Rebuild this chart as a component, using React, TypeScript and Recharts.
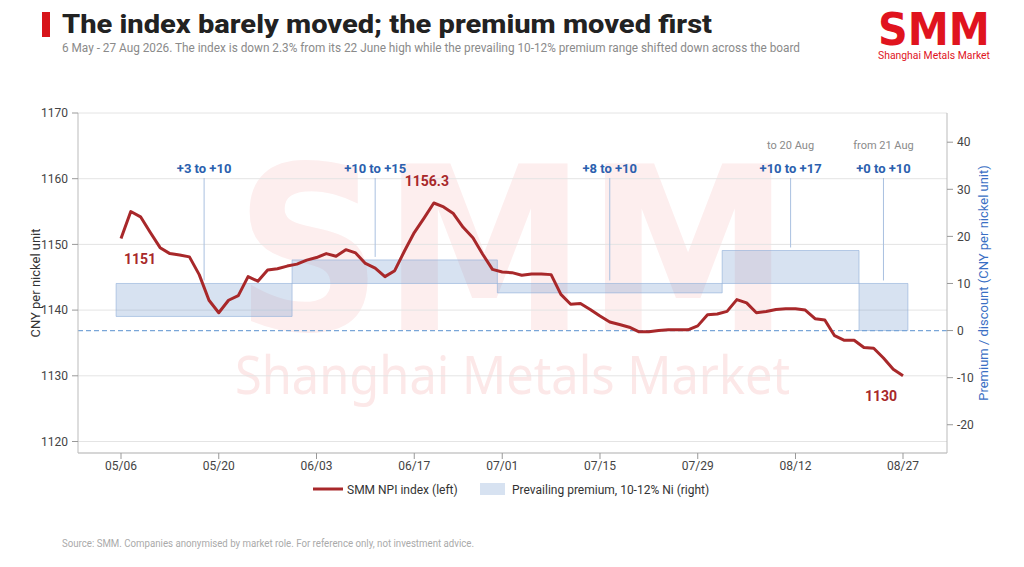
import React from 'react';
import {
  ComposedChart,
  Line,
  XAxis,
  YAxis,
  CartesianGrid,
  ReferenceArea,
  ReferenceLine,
  LabelList,
} from 'recharts';

// ---------- data ----------
const dates = [
  '05/06','05/07','05/08','05/11','05/12','05/13','05/14','05/15','05/18','05/19',
  '05/20','05/21','05/22','05/25','05/26','05/27','05/28','05/29','06/01','06/02',
  '06/03','06/04','06/05','06/08','06/09','06/10','06/11','06/12','06/15','06/16',
  '06/17','06/18','06/22','06/23','06/24','06/25','06/26','06/29','06/30','07/01',
  '07/02','07/03','07/06','07/07','07/08','07/09','07/10','07/13','07/14','07/15',
  '07/16','07/17','07/20','07/21','07/22','07/23','07/24','07/27','07/28','07/29',
  '07/30','07/31','08/03','08/04','08/05','08/06','08/07','08/10','08/11','08/12',
  '08/13','08/14','08/17','08/18','08/19','08/20','08/21','08/24','08/25','08/26',
  '08/27',
];

const npiIndex = [
  1150.9, 1155.0, 1154.2, 1151.8, 1149.5, 1148.6, 1148.4, 1148.1, 1145.4, 1141.5,
  1139.6, 1141.5, 1142.2, 1145.1, 1144.4, 1146.1, 1146.3, 1146.7, 1147.0, 1147.6,
  1148.0, 1148.6, 1148.2, 1149.2, 1148.7, 1147.1, 1146.4, 1145.1, 1146.0, 1149.0,
  1151.8, 1154.0, 1156.3, 1155.7, 1154.7, 1152.6, 1151.0, 1148.5, 1146.2, 1145.8,
  1145.7, 1145.3, 1145.5, 1145.5, 1145.4, 1142.4, 1140.9, 1141.0, 1140.1, 1139.1,
  1138.2, 1137.8, 1137.4, 1136.7, 1136.7, 1136.9, 1137.0, 1137.0, 1137.0, 1137.6,
  1139.3, 1139.4, 1139.8, 1141.6, 1141.1, 1139.6, 1139.8, 1140.1, 1140.2, 1140.2,
  1140.0, 1138.7, 1138.5, 1136.1, 1135.4, 1135.4, 1134.3, 1134.2, 1132.7, 1131.0,
  1130.0,
];

const tickDates = ['05/06', '05/20', '06/03', '06/17', '07/01', '07/15', '07/29', '08/12', '08/27'];
const leftTicks = [1120, 1130, 1140, 1150, 1160, 1170];
const rightTicks = [-20, -10, 0, 10, 20, 30, 40];

const premiumStart = ['05/06', '06/01', '07/01', '08/03', '08/21'];
const premiumEnd = ['05/29', '06/30', '07/31', '08/20', '08/27'];
const premiumLow = [3, 10, 8, 10, 0];
const premiumHigh = [10, 15, 10, 17, 10];
const premiumLabels = ['+3 to +10', '+10 to +15', '+8 to +10', '+10 to +17', '+0 to +10'];
const premiumNotes = ['', '', '', 'to 20 Aug', 'from 21 Aug'];
const premiumCalloutAnchor = ['', '06/11', '', '', ''];

const pointLabelDates = ['05/06', '06/22', '08/27'];
const pointLabelTexts = ['1151', '1156.3', '1130'];

const seriesNames = ['SMM NPI index (left)', 'Prevailing premium, 10-12% Ni (right)'];

// ---------- styles ----------
const RED = '#a8282a';
const BLUE_TEXT = '#2b5fae';
const BOX_FILL = '#6a94cc';
const BOX_OPACITY = 0.27;
const FONT = 'Roboto, "Noto Sans", sans-serif';
const CALLOUT_TOP = 32.4;
const pointLabelOffsets = [
  { dx: 19, dy: 26 },
  { dx: -7, dy: -17 },
  { dx: -22, dy: 25 },
];

const data = dates.map((d, i) => ({ idx: i, date: d, npi: npiIndex[i] }));
const xTicks = tickDates.map((d) => dates.indexOf(d));

const segments = premiumStart.map((s, i) => {
  const si = dates.indexOf(s);
  const ei = dates.indexOf(premiumEnd[i]);
  const anchor = premiumCalloutAnchor[i] ? dates.indexOf(premiumCalloutAnchor[i]) : (si + ei) / 2;
  return {
    x1: si - 0.5,
    x2: ei + 0.5,
    low: premiumLow[i],
    high: premiumHigh[i],
    label: premiumLabels[i],
    note: premiumNotes[i],
    cx: anchor,
  };
});

const PointLabel = (props: any) => {
  const { x, y, index } = props;
  const d = dates[index];
  const k = pointLabelDates.indexOf(d);
  if (k < 0) return null;
  const off = pointLabelOffsets[k];
  return (
    <text
      x={x + off.dx}
      y={y + off.dy}
      textAnchor="middle"
      fontFamily={FONT}
      fontSize={14}
      fontWeight={700}
      fill={RED}
    >
      {pointLabelTexts[k]}
    </text>
  );
};

const makeCallout = (label: string, note: string) => (p: any) => (
  <g>
    <line x1={p.x1} y1={p.y1} x2={p.x2} y2={p.y2 - 3} stroke="#a9c0e0" strokeWidth={1} />
    <text
      x={p.x1}
      y={p.y1 - 5}
      textAnchor="middle"
      fontFamily={FONT}
      fontSize={13}
      fontWeight={700}
      fill={BLUE_TEXT}
    >
      {label}
    </text>
    {note ? (
      <text x={p.x1} y={p.y1 - 29} textAnchor="middle" fontFamily={FONT} fontSize={11} fill="#8a8a8a">
        {note}
      </text>
    ) : null}
  </g>
);

export default function App() {
  return (
    <div style={{ position: 'absolute', left: 0, top: 0, width: 1024, height: 567, background: '#fff', overflow: 'hidden' }}>
      {/* watermark */}
      <svg width={1024} height={567} style={{ position: 'absolute', left: 0, top: 0 }}>
        <text
          x={235}
          y={330}
          fontFamily='"DejaVu Sans", sans-serif'
          fontWeight={900}
          fontSize={228}
          fill="#fdeeee"
          textLength={555}
          lengthAdjust="spacingAndGlyphs"
        >
          SMM
        </text>
        <text
          x={235}
          y={394}
          fontFamily='"Noto Sans", sans-serif'
          fontSize={52}
          fill="#fce8e8"
          textLength={555}
          lengthAdjust="spacingAndGlyphs"
        >
          Shanghai Metals Market
        </text>
      </svg>

      <div style={{ position: 'absolute', left: 0, top: 0 }}>
        <ComposedChart width={1024} height={567} data={data} margin={{ top: 113, right: 27, bottom: 84, left: 28 }}>
          <CartesianGrid yAxisId="left" vertical={false} stroke="#e4e4e4" />
          <XAxis
            dataKey="idx"
            type="number"
            domain={[-4.4, 84.5]}
            allowDataOverflow
            ticks={xTicks}
            tickFormatter={(v: number) => dates[v]}
            tick={{ fontSize: 12, fill: '#444', fontFamily: FONT }}
            tickLine={{ stroke: '#999' }}
            axisLine={{ stroke: '#bbb' }}
            tickSize={6}
            height={30}
            interval={0}
          />
          <YAxis
            yAxisId="left"
            domain={[1118.25, 1170]}
            ticks={leftTicks}
            allowDataOverflow
            width={50}
            tick={{ fontSize: 12, fill: '#444', fontFamily: FONT }}
            tickLine={{ stroke: '#999' }}
            axisLine={{ stroke: '#bbb' }}
            tickSize={6}
            tickMargin={4}
          />
          <YAxis
            yAxisId="right"
            orientation="right"
            domain={[-26, 46.2]}
            ticks={rightTicks}
            allowDataOverflow
            width={50}
            tick={{ fontSize: 12, fill: '#444', fontFamily: FONT }}
            tickLine={{ stroke: '#999' }}
            axisLine={{ stroke: '#bbb' }}
            tickSize={6}
            tickMargin={4}
          />
          {segments.map((s, i) => (
            <ReferenceArea
              key={'box' + i}
              yAxisId="right"
              x1={s.x1}
              x2={s.x2}
              y1={s.low}
              y2={s.high}
              fill={BOX_FILL}
              fillOpacity={BOX_OPACITY}
              stroke="#8eaed8"
              strokeOpacity={0.6}
              strokeWidth={1}
              ifOverflow="visible"
            />
          ))}
          <ReferenceLine yAxisId="right" y={0} stroke="#7aa6d8" strokeDasharray="5 3" strokeWidth={1.3} />
          {segments.map((s, i) => (
            <ReferenceLine
              key={'callout' + i}
              yAxisId="right"
              segment={[
                { x: s.cx, y: CALLOUT_TOP },
                { x: s.cx, y: s.high },
              ]}
              ifOverflow="visible"
              shape={makeCallout(s.label, s.note)}
            />
          ))}
          <Line
            yAxisId="left"
            type="linear"
            dataKey="npi"
            stroke={RED}
            strokeWidth={3}
            dot={false}
            activeDot={false}
            strokeLinejoin="round"
            isAnimationActive={false}
          >
            <LabelList dataKey="npi" content={PointLabel} />
          </Line>
        </ComposedChart>
      </div>

      {/* title, logo, axis titles, legend, footer */}
      <svg width={1024} height={567} style={{ position: 'absolute', left: 0, top: 0, pointerEvents: 'none' }}>
        <rect x={42} y={12} width={8} height={25} fill="#d7141a" />
        <text
          x={62}
          y={33}
          fontFamily={FONT}
          fontWeight={800}
          fontSize={26}
          fill="#222"
          textLength={650}
          lengthAdjust="spacingAndGlyphs"
        >
          The index barely moved; the premium moved first
        </text>
        <text x={62} y={52} fontFamily={FONT} fontSize={12} fill="#8a8a8a" textLength={738} lengthAdjust="spacingAndGlyphs">
          6 May - 27 Aug 2026. The index is down 2.3% from its 22 June high while the prevailing 10-12% premium range shifted down across the board
        </text>

        <text
          x={878}
          y={45}
          fontFamily='"DejaVu Sans", sans-serif'
          fontWeight={900}
          fontSize={45}
          fill="#e0141e"
          textLength={112}
          lengthAdjust="spacingAndGlyphs"
        >
          SMM
        </text>
        <text x={878} y={59} fontFamily={FONT} fontSize={11} fill="#e0141e" textLength={112} lengthAdjust="spacingAndGlyphs">
          Shanghai Metals Market
        </text>

        <text
          transform="translate(40,283) rotate(-90)"
          textAnchor="middle"
          fontFamily={FONT}
          fontSize={13}
          fill="#333"
        >
          CNY per nickel unit
        </text>
        <text
          transform="translate(988,283) rotate(-90)"
          textAnchor="middle"
          fontFamily={FONT}
          fontSize={13}
          fill="#3a6fc4"
        >
          Premium / discount (CNY per nickel unit)
        </text>

        <line x1={313} y1={489} x2={343} y2={489} stroke={RED} strokeWidth={3} />
        <text x={347} y={493.5} fontFamily={FONT} fontSize={12} fill="#333">
          {seriesNames[0]}
        </text>
        <rect x={480} y={483} width={25} height={12} fill={BOX_FILL} fillOpacity={BOX_OPACITY} />
        <text x={512} y={493.5} fontFamily={FONT} fontSize={12} fill="#333">
          {seriesNames[1]}
        </text>

        <text x={62} y={547} fontFamily={FONT} fontSize={10} fill="#aaaaaa" textLength={412} lengthAdjust="spacingAndGlyphs">
          Source: SMM. Companies anonymised by market role. For reference only, not investment advice.
        </text>
      </svg>
    </div>
  );
}
